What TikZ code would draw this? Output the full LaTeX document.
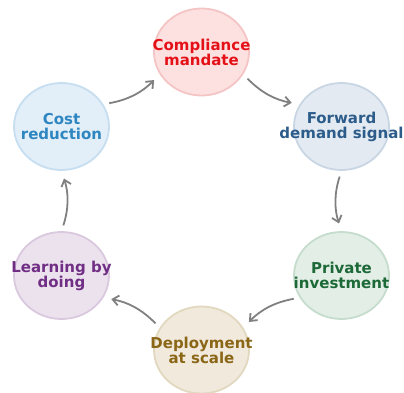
\documentclass[tikz,border=0pt]{standalone}
\usepackage{fontspec}
\setmainfont{DejaVu Sans}
\usetikzlibrary{shapes.geometric,arrows.meta}

% stage palette: fill / edge / text
\definecolor{cmpF}{RGB}{253,224,224}\definecolor{cmpE}{RGB}{245,196,196}\definecolor{cmpT}{RGB}{228,18,24}
\definecolor{fwdF}{RGB}{228,234,242}\definecolor{fwdE}{RGB}{200,214,228}\definecolor{fwdT}{RGB}{44,92,138}
\definecolor{prvF}{RGB}{226,238,230}\definecolor{prvE}{RGB}{198,220,205}\definecolor{prvT}{RGB}{28,105,55}
\definecolor{depF}{RGB}{240,233,220}\definecolor{depE}{RGB}{226,216,192}\definecolor{depT}{RGB}{138,102,22}
\definecolor{lrnF}{RGB}{236,226,238}\definecolor{lrnE}{RGB}{218,200,222}\definecolor{lrnT}{RGB}{112,46,132}
\definecolor{cstF}{RGB}{226,238,248}\definecolor{cstE}{RGB}{198,222,240}\definecolor{cstT}{RGB}{46,134,193}
\definecolor{flow}{RGB}{128,128,128}

\tikzset{
  stage/.style 2 args={ellipse, minimum width=95pt, minimum height=87pt,
    inner sep=0pt, fill=#1, draw=#2, line width=1.8pt},
  stagetext/.style={text=#1, align=center, inner sep=0pt,
    font=\fontsize{15}{15}\selectfont\bfseries},
  flowarrow/.style={draw=flow, line width=1.8pt,
    -{Straight Barb[length=6pt,width=10pt,line width=1.8pt]},
    shorten <=6pt, shorten >=8pt, bend right=18}
}

\begin{document}
\begin{tikzpicture}[x=1pt,y=1pt]
  \useasboundingbox (0,0) rectangle (404,392);

  % stage discs
  \node[stage={cmpF}{cmpE}] (cmp) at (201.5,340)   {};
  \node[stage={fwdF}{fwdE}] (fwd) at (341.5,265.5) {};
  \node[stage={prvF}{prvE}] (prv) at (341.5,116.5) {};
  \node[stage={depF}{depE}] (dep) at (201.5,42)    {};
  \node[stage={lrnF}{lrnE}] (lrn) at (61.5,116.5)  {};
  \node[stage={cstF}{cstE}] (cst) at (61.5,265.5)  {};

  % stage labels
  \node[stagetext=cmpT] (cmpL) at (cmp) {Compliance\\mandate};
  \node[stagetext=fwdT] (fwdL) at (fwd) {Forward\\demand signal};
  \node[stagetext=prvT] (prvL) at (prv) {Private\\investment};
  \node[stagetext=depT] (depL) at (dep) {Deployment\\at scale};
  \node[stagetext=lrnT] (lrnL) at (lrn) {Learning by\\doing};
  \node[stagetext=cstT] (cstL) at (cst) {Cost\\reduction};

  % cycle: each arrow leaves and enters along the centre-to-centre line
  \draw[flowarrow] (cmp.-28)  to (fwd.152);
  \draw[flowarrow] (fwd.-90)  to (prv.90);
  \draw[flowarrow] (prv.-152) to (dep.28);
  \draw[flowarrow] (dep.152)  to (lrn.-28);
  \draw[flowarrow] (lrn.90)   to (cst.-90);
  \draw[flowarrow] (cst.28)   to (cmp.-152);
\end{tikzpicture}
\end{document}
